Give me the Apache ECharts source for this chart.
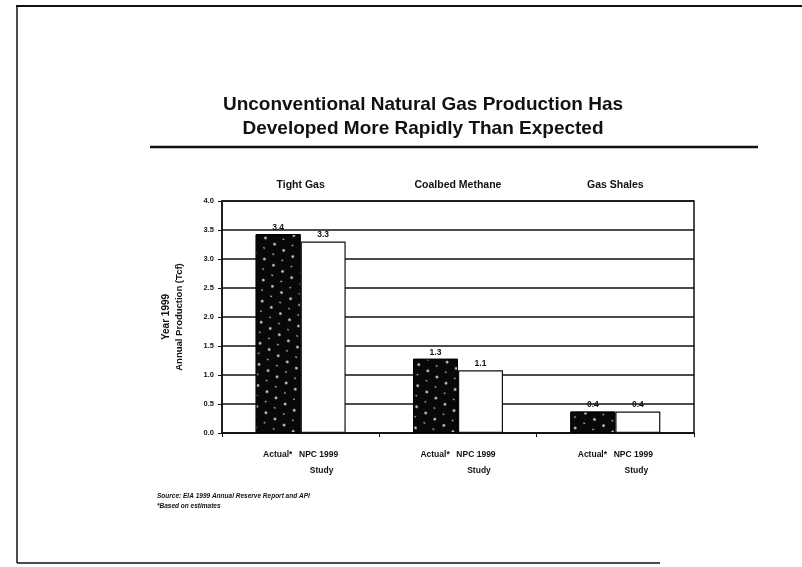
<!DOCTYPE html>
<html>
<head>
<meta charset="utf-8">
<script src="https://cdn.jsdelivr.net/npm/echarts@6/dist/echarts.min.js"></script>
<style>
html,body{margin:0;padding:0;background:#fff;}
#c{width:802px;height:567px;}
</style>
</head>
<body>
<div id="c"></div>
<script>
var categories = ['Tight Gas', 'Coalbed Methane', 'Gas Shales'];
var actualValues = [3.43, 1.28, 0.37];
var npcValues = [3.30, 1.08, 0.37];
var seriesNames = ['Actual*', 'NPC 1999 Study'];
var yTicks = [0, 0.5, 1.0, 1.5, 2.0, 2.5, 3.0, 3.5, 4.0];
var titleText = 'Unconventional Natural Gas Production Has\nDeveloped More Rapidly Than Expected';
var yAxisName = ['Year 1999', 'Annual Production (Tcf)'];
var sourceLines = ['Source: EIA 1999 Annual Reserve Report and API', '*Based on estimates'];

var FONT = '"Liberation Sans", Arial, sans-serif';
var chart = echarts.init(document.getElementById('c'), null, {renderer: 'canvas'});

var option = {
  backgroundColor: '#fff',
  animation: false,
  title: {
    text: titleText,
    left: 418,
    textAlign: 'center',
    top: 88,
    textStyle: {fontFamily: FONT, fontSize: 19, fontWeight: 'bold', color: '#111', lineHeight: 24}
  },
  grid: {
    left: 222, right: 108, top: 201, bottom: 134,
    show: true, borderColor: '#111', borderWidth: 1.5, backgroundColor: 'transparent'
  },
  xAxis: [{
    type: 'category',
    data: categories,
    position: 'bottom',
    axisLine: {lineStyle: {color: '#111', width: 1.5}},
    axisTick: {show: true, length: 4, lineStyle: {color: '#111'}},
    axisLabel: {
      interval: 0,
      hideOverlap: false,
      margin: 14,
      formatter: function () { return '{a|' + seriesNames[0] + '}  {a|NPC 1999}\n{b|Study}'; },
      rich: {
        a: {fontFamily: FONT, fontSize: 8.5, fontWeight: 'bold', color: '#111', lineHeight: 16},
        b: {fontFamily: FONT, fontSize: 8.5, fontWeight: 'bold', color: '#111', lineHeight: 16, padding: [0, 0, 0, 42]}
      }
    }
  }, {
    type: 'category',
    data: categories,
    position: 'top',
    axisLine: {show: false},
    axisTick: {show: false},
    axisLabel: {interval: 0, margin: 10, fontFamily: FONT, fontSize: 10.5, fontWeight: 'bold', color: '#111'}
  }],
  yAxis: {
    type: 'value',
    min: yTicks[0],
    max: yTicks[yTicks.length - 1],
    interval: 0.5,
    name: '{a|' + yAxisName[0] + '}\n{b|' + yAxisName[1] + '}',
    nameLocation: 'middle',
    nameRotate: 90,
    nameGap: 36,
    nameTextStyle: {
      rich: {
        a: {fontFamily: FONT, fontSize: 10, fontWeight: 'bold', color: '#111', lineHeight: 14},
        b: {fontFamily: FONT, fontSize: 9.5, fontWeight: 'bold', color: '#111', lineHeight: 13}
      }
    },
    axisLine: {show: true, lineStyle: {color: '#111', width: 1.5}},
    axisTick: {show: true, length: 4, lineStyle: {color: '#111'}},
    axisLabel: {
      margin: 8,
      fontFamily: FONT, fontSize: 7.5, fontWeight: 'bold', color: '#111',
      formatter: function (v) { return v.toFixed(1); }
    },
    splitLine: {show: true, lineStyle: {color: '#111', width: 1.5}}
  },
  series: [{
    name: seriesNames[0],
    type: 'bar',
    data: actualValues,
    barWidth: 45,
    barGap: '0%',
    itemStyle: {
      color: '#080808',
      borderColor: '#000',
      borderWidth: 1,
      decal: {
        symbol: 'circle',
        symbolSize: 0.8,
        color: 'rgba(255,255,255,0.95)',
        dashArrayX: [[3, 8], [0, 5, 2, 4]],
        dashArrayY: [3, 6],
        rotation: 0.6
      }
    },
    label: {
      show: true, position: 'top', distance: 2,
      fontFamily: FONT, fontSize: 8.5, fontWeight: 'bold', color: '#111',
      formatter: function (p) { return p.value.toFixed(1); }
    }
  }, {
    name: seriesNames[1],
    type: 'bar',
    data: npcValues,
    barWidth: 45,
    itemStyle: {color: '#fff', borderColor: '#111', borderWidth: 1.2},
    label: {
      show: true, position: 'top', distance: 2,
      fontFamily: FONT, fontSize: 8.5, fontWeight: 'bold', color: '#111',
      formatter: function (p) { return p.value.toFixed(1); }
    }
  }],
  graphic: [
    {type: 'line', shape: {x1: 16, y1: 6, x2: 802, y2: 6}, style: {stroke: '#111', lineWidth: 2}},
    {type: 'line', shape: {x1: 17, y1: 6, x2: 17, y2: 563}, style: {stroke: '#111', lineWidth: 1.5}},
    {type: 'line', shape: {x1: 17, y1: 563, x2: 660, y2: 563}, style: {stroke: '#111', lineWidth: 1.5}},
    {type: 'line', shape: {x1: 150, y1: 147, x2: 758, y2: 147}, style: {stroke: '#111', lineWidth: 2.5}},
    {type: 'text', left: 157, top: 493, style: {text: sourceLines[0], fontFamily: FONT, fontSize: 6.5, fontWeight: 'bold', fontStyle: 'italic', fill: '#111'}},
    {type: 'text', left: 157, top: 503, style: {text: sourceLines[1], fontFamily: FONT, fontSize: 6.5, fontWeight: 'bold', fontStyle: 'italic', fill: '#111'}}
  ]
};
chart.setOption(option);
</script>
</body>
</html>
